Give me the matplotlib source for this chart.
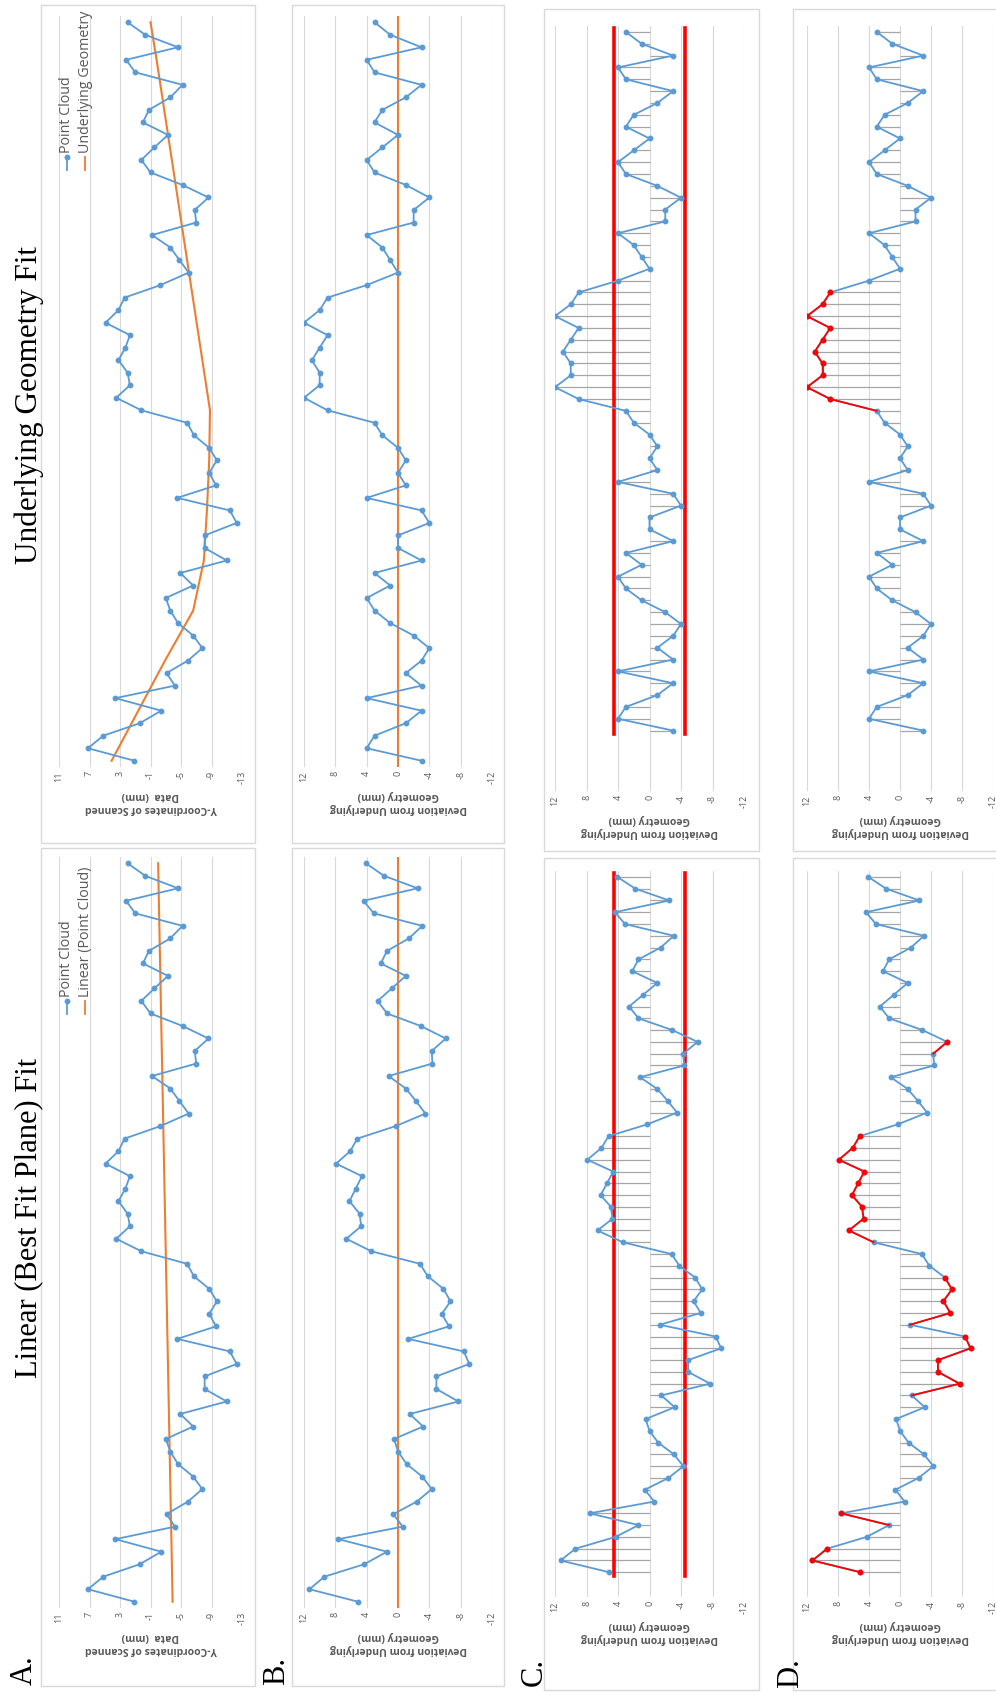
import matplotlib.pyplot as plt
from matplotlib.patches import Rectangle
from matplotlib.lines import Line2D

# scanned surface profile (y-coordinates, mm), one value per sampled point
point_cloud = [1.1, 7.2, 5.2, 0.4, -2.4, 3.6, -4.2, -3.1, -5.9, -7.8,
               -6.6, -4.6, -3.6, -3.0, -6.6, -4.9, -11.0, -8.1, -8.1, -12.3,
               -11.4, -4.5, -9.6, -8.7, -9.7, -8.7, -6.7, -5.8, 0.2, 3.5,
               1.7, 2.0, 3.2, 2.3, 1.7, 4.9, 3.2, 2.4, -2.3, -6.0,
               -4.8, -3.6, -1.2, -7.0, -6.8, -8.6, -5.2, -1.0, 0.2, -1.5,
               -3.3, 0.0, -0.8, -3.6, -5.2, 1.0, 2.2, -4.6, -0.3, 2.0]

# best fit plane through the cloud (value at first and last point)
linear_fit = [-3.9, -2.0]

# underlying geometry, knots along the profile
geometry_idx = [0, 4, 8, 12, 16, 20, 24, 28, 32, 36, 40, 44, 48, 52, 56, 59]
geometry_val = [4.1, 0.6, -2.9, -6.6, -8.0, -8.4, -8.7, -8.8, -7.8, -6.8,
                -5.8, -4.8, -3.8, -2.8, -1.8, -1.0]

# deviation of the cloud from the best fit plane
dev_linear = [5.1, 11.3, 9.4, 4.3, 1.4, 7.6, -0.6, 0.6, -2.4, -4.3,
              -3.1, -1.1, 0.0, 0.5, -3.2, -1.5, -7.7, -4.9, -4.9, -9.1,
              -8.4, -1.3, -6.5, -5.6, -6.7, -5.8, -3.8, -2.8, 3.4, 6.6,
              4.7, 4.9, 6.2, 5.4, 4.6, 7.9, 6.1, 5.2, 0.3, -3.5,
              -2.3, -1.0, 1.2, -4.4, -4.3, -6.1, -2.9, 1.4, 2.6, 0.8,
              -1.0, 2.2, 1.4, -1.4, -3.1, 3.1, 4.4, -2.5, 1.8, 4.1]

# deviation of the cloud from the underlying geometry
dev_geometry = [-3, 4, 3, -1, -3, 4, -3, -1, -3, -4,
                -2, 1, 3, 4, 1, 3, -3, 0, 0, -4,
                -3, 4, -1, 0, -1, 0, 2, 3, 9, 12,
                10, 10, 11, 10, 9, 12, 10, 9, 4, 0,
                1, 2, 4, -2, -2, -4, -1, 3, 4, 2,
                0, 3, 2, -1, -3, 3, 4, -3, 1, 3]

tolerance = 4.5

scan_ticks = [11, 7, 3, -1, -5, -9, -13]
dev_ticks = [12, 8, 4, 0, -4, -8, -12]

scan_label = "Y-Coordinates of Scanned\nData  (mm)"
dev_label = "Deviation from Underlying\nGeometry (mm)"

BLUE = "#5B9BD5"
ORANGE = "#ED7D31"
RED = "#FF0000"
GREY_TXT = "#595959"
GRID = "#D9D9D9"
STEM = "#A6A6A6"

W, H = 996, 1694
SANS = ["Open Sans", "DejaVu Sans"]
SERIF = ["Liberation Serif", "DejaVu Serif"]

fig = plt.figure(figsize=(W / 100, H / 100), dpi=100)


def fx(x):
    return x / W


def fy(y):
    return 1 - y / H


def box(x0, y0, x1, y1):
    fig.patches.append(Rectangle((fx(x0), fy(y1)), (x1 - x0) / W, (y1 - y0) / H,
                                 transform=fig.transFigure, fill=False,
                                 edgecolor=GRID, lw=1.0))


def panel(x0, y0, x1, y1, values, ticks, label, ymin=-0.5):
    ax = fig.add_axes([fx(x0), fy(y1), (x1 - x0) / W, (y1 - y0) / H])
    idx = list(range(len(values)))
    ax.set_xlim(ticks[0], ticks[-1])
    ax.set_ylim(ymin, len(values) - 0.5)
    for t in ticks:
        ax.axvline(t, color=GRID, lw=0.8, zorder=0)
    ax.set_xticks(ticks)
    ax.set_xticklabels([str(t) for t in ticks], rotation=90, fontsize=6.5,
                       color=GREY_TXT, family=SANS)
    ax.tick_params(axis="x", length=0, pad=3)
    ax.set_yticks([])
    for s in ax.spines.values():
        s.set_visible(False)
    ax.set_xlabel(label, rotation=180, fontsize=7.5, fontweight="bold",
                  color=GREY_TXT, family=SANS, labelpad=4, linespacing=1.3)
    ax.patch.set_alpha(0)
    return ax, idx


def cloud(ax, idx, values, color=BLUE):
    ax.plot(values, idx, color=color, lw=1.3, marker="o", ms=3.2,
            mec=color, mfc=color, zorder=4)


def stems(ax, idx, values):
    ax.hlines(idx, 0, values, color=STEM, lw=0.9, zorder=1)


def legend(x_first, y_base, labels, colors, markers):
    for k, (lab, col, mk) in enumerate(zip(labels, colors, markers)):
        x = x_first + k * 18.5
        fig.lines.append(Line2D([fx(x), fx(x)], [fy(y_base + 17), fy(y_base + 4)],
                                transform=fig.transFigure, color=col, lw=1.3,
                                marker=mk, ms=3.2, markevery=[1] if mk else None))
        fig.text(fx(x), fy(y_base), lab, rotation=90, ha="center", va="bottom",
                 fontsize=10.3, color=GREY_TXT, family=SANS)


# chart frames
for (x0, x1) in [(41, 255), (292, 504)]:
    box(x0, 5, x1, 843)
    box(x0, 848, x1, 1686)
for (x0, x1) in [(544, 759), (793, 1000)]:
    box(x0, 9, x1, 851)
    box(x0, 858, x1, 1690)

n = len(point_cloud)
# plot area rows: (A/B top, A/B bottom, C/D top, C/D bottom, C/D lower limit)
rows = [(16, 767, 26, 791, -5.1), (857, 1608, 871, 1597, -2.1)]

for r, (ya0, ya1, yc0, yc1, cmin) in enumerate(rows):
    upper = r == 0
    dev = dev_geometry if upper else dev_linear

    # A: point cloud with its fit
    ax, idx = panel(59, ya0, 242, ya1, point_cloud, scan_ticks, scan_label)
    if upper:
        ax.plot(geometry_val, geometry_idx, color=ORANGE, lw=1.5, zorder=3)
    else:
        ax.plot(linear_fit, [0, n - 1], color=ORANGE, lw=1.5, zorder=3)
    cloud(ax, idx, point_cloud)

    # B: deviation from the fit
    ax, idx = panel(304, ya0, 492, ya1, dev, dev_ticks, dev_label)
    ax.axvline(0, color=ORANGE, lw=1.5, zorder=3)
    cloud(ax, idx, dev)

    # C: deviation with tolerance band
    ax, idx = panel(555, yc0, 744, yc1, dev, dev_ticks, dev_label, ymin=cmin)
    stems(ax, idx, dev)
    ax.plot([tolerance, tolerance], [-0.3, n - 0.7], color=RED, lw=2.6, zorder=2)
    ax.plot([-tolerance, -tolerance], [-0.3, n - 0.7], color=RED, lw=2.6, zorder=2)
    cloud(ax, idx, dev)

    # D: points outside the tolerance highlighted
    ax, idx = panel(807, yc0, 993, yc1, dev, dev_ticks, dev_label, ymin=cmin)
    stems(ax, idx, dev)
    cloud(ax, idx, dev)
    out = [abs(v) > tolerance for v in dev]
    for i in range(n):
        if out[i]:
            if i > 0:
                ax.plot(dev[i - 1:i + 1], [i - 1, i], color=RED, lw=1.3, zorder=5)
            ax.plot(dev[i], i, "o", color=RED, ms=3.2, zorder=6)

    # legend of the A panel
    if upper:
        legend(66.7, 153, ["Point Cloud", "Underlying Geometry"],
               [BLUE, ORANGE], ["o", None])
    else:
        legend(66.7, 997, ["Point Cloud", "Linear (Point Cloud)"],
               [BLUE, ORANGE], ["o", None])

# column titles and panel letters
fig.text(fx(29), fy(405), "Underlying Geometry Fit", rotation=90, ha="center",
         va="center", fontsize=22.5, family=SERIF)
fig.text(fx(29), fy(1218), "Linear (Best Fit Plane) Fit", rotation=90,
         ha="center", va="center", fontsize=22, family=SERIF)
for lab, x, y in [("A.", 24, 1670), ("B.", 277, 1671), ("C.", 534, 1672),
                  ("D.", 791, 1673)]:
    fig.text(fx(x), fy(y), lab, rotation=90, ha="center", va="center",
             fontsize=22, family=SERIF)

fig.savefig("out.png", dpi=100)
